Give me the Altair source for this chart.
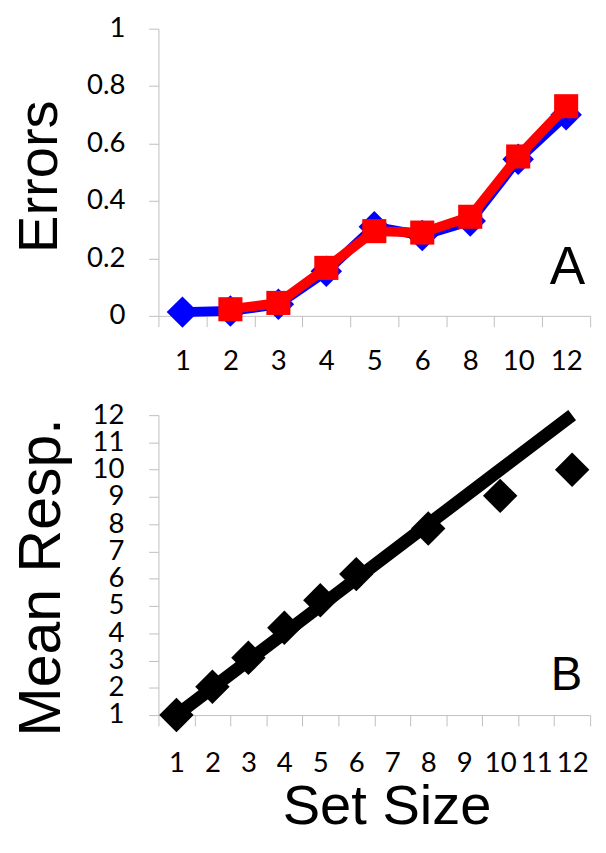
import altair as alt
import pandas as pd

# ---------------- Panel A data ----------------
set_sizes_a = [1, 2, 3, 4, 5, 6, 8, 10, 12]
blue_sizes = [1, 2, 3, 4, 5, 6, 8, 10, 12]
blue_errors = [0.013, 0.017, 0.04, 0.155, 0.31, 0.28, 0.33, 0.545, 0.70]
red_sizes = [2, 3, 4, 5, 6, 8, 10, 12]
red_errors = [0.023, 0.045, 0.167, 0.295, 0.29, 0.345, 0.555, 0.73]
err_ticks = [0, 0.2, 0.4, 0.6, 0.8, 1]

# ---------------- Panel B data ----------------
set_sizes_b = [1, 2, 3, 4, 5, 6, 7, 8, 9, 10, 11, 12]
resp_sizes = [1, 2, 3, 4, 5, 6, 8, 10, 12]
mean_resp = [1.0, 2.04, 3.1, 4.2, 5.21, 6.17, 7.84, 9.04, 10.0]
ideal_sizes = [1, 2, 3, 4, 5, 6, 8, 10, 12]
ideal_resp = [1, 2, 3, 4, 5, 6, 8, 10, 12]
resp_ticks = [1, 2, 3, 4, 5, 6, 7, 8, 9, 10, 11, 12]

GRAY = "#bfbfbf"
LABEL_FONT = "Lato"
TITLE_FONT = "Liberation Sans"

blue_df = pd.DataFrame({"size": blue_sizes, "value": blue_errors})
red_df = pd.DataFrame({"size": red_sizes, "value": red_errors})
resp_df = pd.DataFrame({"size": resp_sizes, "value": mean_resp})
ideal_df = pd.DataFrame({"size": ideal_sizes, "value": ideal_resp})

common_axis = dict(
    labelFont=LABEL_FONT, labelFontSize=28, labelColor="black",
    domainColor=GRAY, tickColor=GRAY, grid=False, labelOverlap=False,
    titleFont=TITLE_FONT, titleFontWeight="normal", titleColor="black",
)

A_H, A_W = 292, 439
B_H, B_W = 305, 439
GAP = 101

# ---------- Panel A ----------
xA = alt.X(
    "size:O",
    scale=alt.Scale(type="band", domain=set_sizes_a, paddingInner=0, paddingOuter=0),
    bandPosition=0.5,
    axis=alt.Axis(title=None, labelAngle=0, tickBand="extent", tickSize=11,
                  labelPadding=22, **common_axis),
)
yA = alt.Y(
    "value:Q",
    scale=alt.Scale(domain=[0, 1], nice=False, zero=False),
    axis=alt.Axis(values=err_ticks, format="~g", title="Errors", titleFontSize=57,
                  titleAngle=270, titleBaseline="alphabetic", titleAlign="center",
                  titleX=-104, titleY=A_H / 2 + 4, tickSize=10, labelPadding=24,
                  **common_axis),
)

blue_line = alt.Chart(blue_df).mark_line(color="#0000ff", strokeWidth=10).encode(x=xA, y=yA)
blue_pts = alt.Chart(blue_df).mark_point(shape="diamond", filled=True, size=1024,
                                         color="#0000ff", opacity=1).encode(x=xA, y=yA)
red_line = alt.Chart(red_df).mark_line(color="#ff0000", strokeWidth=10).encode(x=xA, y=yA)
red_pts = alt.Chart(red_df).mark_square(size=600, color="#ff0000", opacity=1).encode(x=xA, y=yA)
label_a = alt.Chart(pd.DataFrame({"label": ["A"]})).mark_text(
    font=TITLE_FONT, fontSize=54, align="right", baseline="alphabetic", color="black"
).encode(text="label:N", x=alt.value(434), y=alt.value(A_H - 32))

panel_a = alt.layer(blue_line, blue_pts, red_line, red_pts, label_a).properties(
    width=A_W, height=A_H)

# ---------- Panel B ----------
xB = alt.X(
    "size:O",
    scale=alt.Scale(type="band", domain=set_sizes_b, paddingInner=0, paddingOuter=0),
    bandPosition=0.5,
    axis=alt.Axis(title="Set Size", titleFontSize=57, titleX=232, titleY=110,
                  titleBaseline="alphabetic", titleAlign="center", labelAngle=0,
                  tickBand="extent", tickSize=11, labelPadding=24, **common_axis),
)
yB = alt.Y(
    "value:Q",
    scale=alt.Scale(domain=[1, 12], nice=False, zero=False),
    axis=alt.Axis(values=resp_ticks, title="Mean Resp.", titleFontSize=60,
                  titleAngle=270, titleBaseline="alphabetic", titleAlign="center",
                  titleX=-101, titleY=B_H / 2 + 12, tickSize=10, labelPadding=25,
                  **common_axis),
)

ideal_line = alt.Chart(ideal_df).mark_line(color="black", strokeWidth=13, strokeCap="butt").encode(x=xB, y=yB)
resp_pts = alt.Chart(resp_df).mark_point(shape="diamond", filled=True, size=1225,
                                         color="black", opacity=1).encode(x=xB, y=yB)
label_b = alt.Chart(pd.DataFrame({"label": ["B"]})).mark_text(
    font=TITLE_FONT, fontSize=48, align="right", baseline="alphabetic", color="black"
).encode(text="label:N", x=alt.value(431), y=alt.value(B_H - 25))

panel_b = alt.layer(ideal_line, resp_pts, label_b).properties(width=B_W, height=B_H)

chart = alt.vconcat(panel_a, panel_b, spacing=GAP, bounds="flush").properties(
    padding={"left": 3, "top": 0, "right": 0, "bottom": 0}
).configure_view(strokeWidth=0)

chart.save("out.html", embed_options={"renderer": "svg", "actions": False})
